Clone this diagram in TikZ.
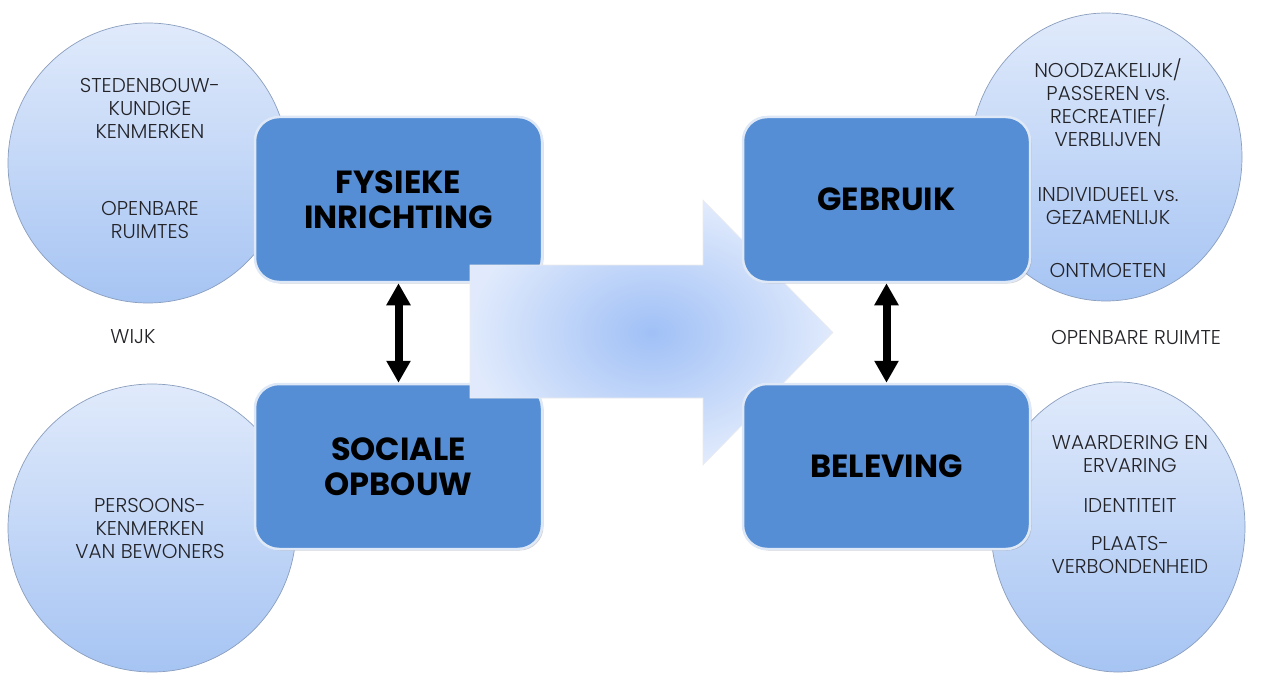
\documentclass[tikz,border=0pt]{standalone}
\usepackage{fontspec}
\setmainfont{Poppins}
\newfontfamily\thinfont{Poppins Light}
\usepackage{xcolor}
\usepackage{tikz}
\usetikzlibrary{positioning, arrows.meta, shapes.geometric, shadows}

\definecolor{boxblue}{RGB}{85,142,213}
\definecolor{boxrim}{RGB}{222,232,246}
\definecolor{circtop}{RGB}{224,234,251}
\definecolor{circbot}{RGB}{166,196,243}
\definecolor{circrim}{RGB}{138,158,190}
\definecolor{arrowin}{RGB}{160,192,246}
\definecolor{arrowout}{RGB}{224,234,252}
\definecolor{inkgray}{RGB}{35,35,40}

\tikzset{
    bubble/.style={ellipse, draw=circrim, line width=0.7pt, top color=circtop, bottom color=circbot, inner sep=0pt},
    factor/.style={rectangle, rounded corners=24pt, fill=boxblue, draw=boxrim, line width=2.5pt,
        minimum width=287pt, minimum height=165pt, align=center, text=black,
        font=\bfseries\fontsize{32}{35}\selectfont,
        drop shadow={shadow xshift=1.5pt, shadow yshift=-1.5pt, opacity=0.35}},
    note/.style={align=center, text=inkgray, font=\thinfont\fontsize{20}{23}\selectfont},
    link/.style={{Triangle[length=22pt,width=23pt]}-{Triangle[length=22pt,width=23pt]}, line width=8pt}
}

\begin{document}
\begin{tikzpicture}[x=1pt, y=-1pt]
    \useasboundingbox[fill=white] (0,0) rectangle (1280,674);

    % circles on the left (wijk)
    \node[bubble, minimum width=280pt, minimum height=280pt] (wijkA) at (148,163) {};
    \node[bubble, minimum width=288pt, minimum height=288pt] (wijkB) at (152,528) {};

    \node[factor] (fys) at (398.5,199.5) {FYSIEKE\\INRICHTING};
    \node[factor] (soc) at (398.5,466.5) {SOCIALE\\OPBOUW};

    % big arrow in the middle
    \shade[inner color=arrowin, outer color=arrowout, draw=white!85!gray, line width=0.6pt]
        (470,265) -- (703,265) -- (703,200) -- (833,332.5) -- (703,465) -- (703,398) -- (470,398) -- cycle;

    % circles on the right (openbare ruimte)
    \node[bubble, minimum width=272pt, minimum height=288pt] (ruimteA) at (1106,157) {};
    \node[bubble, minimum width=254pt, minimum height=290pt] (ruimteB) at (1118,527) {};

    \node[factor] (geb) at (886.5,199.5) {GEBRUIK};
    \node[factor] (bel) at (886.5,466.5) {BELEVING};

    \draw[link] (fys) -- (soc);
    \draw[link] (geb) -- (bel);

    % texts in the circles
    \node[note] (stedenbouw) at (150,108) {STEDENBOUW-\\KUNDIGE\\KENMERKEN};
    \node[note] (openbaar) at (150,220) {OPENBARE\\RUIMTES};
    \node[note] (persoons) at (150,528) {PERSOONS-\\KENMERKEN\\VAN BEWONERS};
    \node[note] (noodzaak) at (1108,103) {NOODZAKELIJK/\\PASSEREN vs.\\RECREATIEF/\\VERBLIJVEN};
    \node[note] (samen) at (1108,206) {INDIVIDUEEL vs.\\GEZAMENLIJK};
    \node[note] (ontmoet) at (1108,270) {ONTMOETEN};
    \node[note] (waardering) at (1130,453.5) {WAARDERING EN\\ERVARING};
    \node[note] (identiteit) at (1130,505) {IDENTITEIT};
    \node[note] (plaats) at (1130,555) {PLAATS-\\VERBONDENHEID};

    \node[note] (wijk) at (133,337) {WIJK};
    \node[note] (ruimte) at (1136,337) {OPENBARE RUIMTE};
\end{tikzpicture}
\end{document}
